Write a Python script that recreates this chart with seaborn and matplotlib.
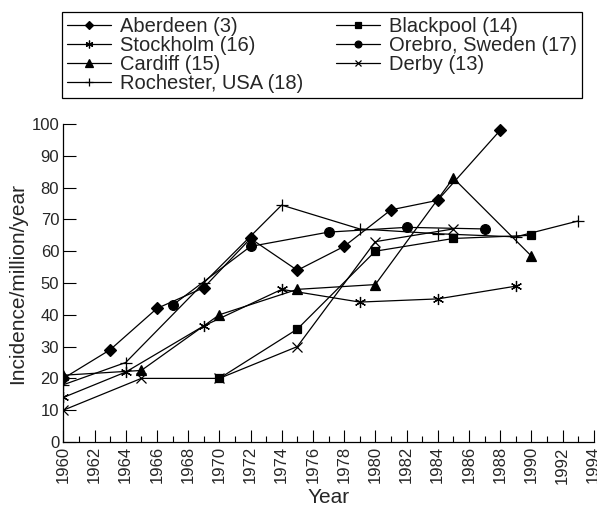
import matplotlib
matplotlib.use("Agg")
import matplotlib.pyplot as plt
from matplotlib.ticker import MultipleLocator
import seaborn as sns
import pandas as pd

# values
aberdeen_years = [1960, 1963, 1966, 1969, 1972, 1975, 1978, 1981, 1984, 1988]
aberdeen_vals = [20, 29, 42, 48.5, 64, 54, 61.5, 73, 76, 98]

blackpool_years = [1970, 1975, 1980, 1985, 1990]
blackpool_vals = [20, 35.5, 60, 64, 65]

stockholm_years = [1960, 1964, 1969, 1974, 1979, 1984, 1989]
stockholm_vals = [14, 22, 36.5, 48, 44, 45, 49]

orebro_years = [1967, 1972, 1977, 1982, 1987]
orebro_vals = [43, 61.5, 66, 67.5, 67]

cardiff_years = [1960, 1965, 1970, 1975, 1980, 1985, 1990]
cardiff_vals = [21, 22.5, 40, 48, 49.5, 83, 58.5]

derby_years = [1960, 1965, 1970, 1975, 1980, 1985]
derby_vals = [10, 20, 20, 30, 63, 67]

rochester_years = [1960, 1964, 1969, 1974, 1979, 1984, 1989, 1993]
rochester_vals = [18, 25, 50, 74.5, 67, 65.5, 64.5, 69.5]

xtick_years = list(range(1960, 1995, 2))
ytick_vals = list(range(0, 101, 10))


def main():
    sns.set_theme(style="ticks")
    plt.rcParams['font.family'] = ['Liberation Sans', 'DejaVu Sans']

    fig = plt.figure(figsize=(5.97, 5.12), dpi=100)
    ax = fig.add_axes([63.3 / 597, 70 / 512, 530.4 / 597, 318 / 512])

    # (label, years, values, marker, markersize)
    series = [
        ("Aberdeen (3)", aberdeen_years, aberdeen_vals, "D", 6),
        ("Stockholm (16)", stockholm_years, stockholm_vals, (6, 2, 0), 8),
        ("Cardiff (15)", cardiff_years, cardiff_vals, "^", 7.5),
        ("Rochester, USA (18)", rochester_years, rochester_vals, "+", 8),
        ("Blackpool (14)", blackpool_years, blackpool_vals, "s", 6),
        ("Orebro, Sweden (17)", orebro_years, orebro_vals, "o", 7),
        ("Derby (13)", derby_years, derby_vals, "x", 6.5),
    ]

    for label, years, vals, marker, ms in series:
        df = pd.DataFrame({"year": years, "value": vals})
        sns.lineplot(
            data=df, x="year", y="value", ax=ax,
            color="black", linewidth=0.9,
            marker=marker, markersize=ms,
            markerfacecolor="black", markeredgecolor="black",
            markeredgewidth=0.9,
            estimator=None, sort=False, label=label,
        )

    ax.set_xlim(1960, 1994)
    ax.set_ylim(0, 100)
    ax.set_xticks(xtick_years)
    ax.set_xticklabels([str(y) for y in xtick_years], rotation=90)
    ax.xaxis.set_minor_locator(MultipleLocator(1))
    ax.set_yticks(ytick_vals)
    ax.tick_params(axis="both", which="major", direction="in",
                   length=9, width=0.8, labelsize=12, color="black", pad=3)
    ax.tick_params(axis="x", which="minor", direction="in",
                   length=4.5, width=0.8, color="black")
    sns.despine(ax=ax)
    for side in ("left", "bottom"):
        ax.spines[side].set_linewidth(0.9)
        ax.spines[side].set_color("black")

    ax.set_xlabel("Year", fontsize=15, labelpad=3)
    ax.set_ylabel("Incidence/million/year", fontsize=15, labelpad=3)

    handles, labels = ax.get_legend_handles_labels()
    ax.get_legend().remove()
    leg = fig.legend(
        handles, labels, ncol=2,
        loc="center", mode="expand",
        bbox_to_anchor=(62 / 597, 1 - 100 / 512, 520 / 597, 90 / 512),
        fontsize=14.5, frameon=True, fancybox=False, shadow=False,
        edgecolor="black", framealpha=1,
        handlelength=2.2, handletextpad=0.45, labelspacing=0.0,
        borderpad=0.25, borderaxespad=0, markerscale=0.7,
    )
    leg.get_frame().set_linewidth(0.9)

    fig.savefig("out.png", dpi=100)
    plt.close(fig)


if __name__ == '__main__':
    main()
